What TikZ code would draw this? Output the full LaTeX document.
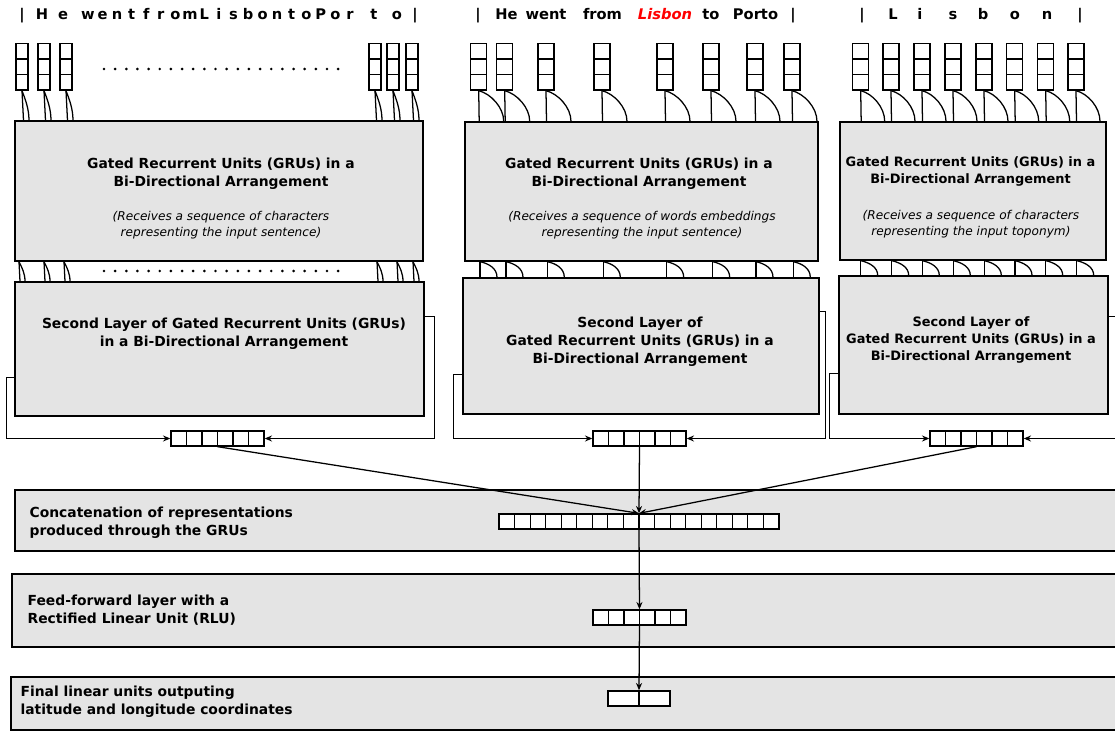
\documentclass[tikz,border=0pt]{standalone}
\usepackage{fontspec}
\setmainfont{DejaVu Sans}
\usetikzlibrary{calc,arrows.meta,fit}
\definecolor{boxgray}{HTML}{E4E4E4}
\newcommand\ttlfont{\fontsize{10.4}{13.5}\selectfont\bfseries}
\newcommand\ttlsmall{\fontsize{9.7}{12.8}\selectfont\bfseries}
\newcommand\itfont{\fontsize{9.1}{12}\selectfont\itshape}
\newcommand\topfont{\fontsize{11}{13}\selectfont\bfseries}
\begin{document}
\begin{tikzpicture}[x=0.75pt,y=-0.75pt,line width=0.95pt,
  box/.style={draw,fill=boxgray,inner sep=0pt,line width=1pt},
  hcells/.style={draw,fill=white,inner sep=0pt,line width=1pt,path picture={
     \pgfmathtruncatemacro\nm{#1-1}
     \foreach \k in {1,...,\nm}{
       \draw[line width=0.9pt] ($(path picture bounding box.south west)!{\k/#1}!(path picture bounding box.south east)$) --
             ($(path picture bounding box.north west)!{\k/#1}!(path picture bounding box.north east)$);}}},
  vcells/.style={draw,fill=white,inner sep=0pt,line width=1pt,path picture={
     \foreach \k in {1,2}{
       \draw[line width=0.9pt] ($(path picture bounding box.north west)!{\k/3}!(path picture bounding box.south west)$) --
             ($(path picture bounding box.north east)!{\k/3}!(path picture bounding box.south east)$);}}},
  arr/.style={-{Stealth[length=5.5pt,width=4.5pt]}},
  txt/.style={inner sep=0pt,align=center},
  ltxt/.style={inner sep=0pt,align=left,anchor=west,font=\ttlfont},
  toptxt/.style={inner sep=0pt,anchor=base,font=\topfont}]
\clip (0,0) rectangle (1115,731);
\fill[white] (0,0) rectangle (1115,731);

% ---------- top texts ----------
\foreach \x/\c [count=\i] in {22/|,42/H,63/e,88/w,102.6/e,117.1/n,131.7/t,146.2/f,160.8/r,175.3/o,189.9/m,204.4/L,219/i,233.5/s,248.1/b,262.6/o,277.2/n,291.7/t,306.3/o,320.8/P,335.4/o,350/r,374/t,397/o,415/|}
  \node[toptxt] (tl\i) at (\x,20) {\c};
\node[toptxt] (tm1) at (478,20) {|};
\node[toptxt] (tm2) at (506.5,20) {He};
\node[toptxt] (tm3) at (546,20) {went};
\node[toptxt] (tm4) at (602.5,20) {from};
\node[toptxt] (tm5) at (665,20) {\textcolor{red}{\itshape Lisbon}};
\node[toptxt] (tm6) at (711,20) {to};
\node[toptxt] (tm7) at (755.5,20) {Porto};
\node[toptxt] (tm8) at (793,20) {|};
\foreach \x/\c [count=\i] in {862/|,893/L,920/i,953/s,983/b,1015/o,1047/n,1080/|}
  \node[toptxt] (tr\i) at (\x,20) {\c};

% ---------- big boxes ----------
\node[box,fit={(15,121) (423,261)}] (L1) {};
\node[box,fit={(465,122) (818,261)}] (M1) {};
\node[box,fit={(840,122) (1106,260)}] (R1) {};
\node[box,fit={(15,282) (424,416)}] (L2) {};
\node[box,fit={(463,278) (819,414)}] (M2) {};
\node[box,fit={(839,276) (1108,414)}] (R2) {};
\node[box,fit={(15,490) (1130,551)}] (CC) {};
\node[box,fit={(12,574) (1130,647)}] (FF) {};
\node[box,fit={(11,677) (1130,730)}] (FI) {};

% ---------- box texts ----------
\node[txt,font=\ttlfont] (l1t) at (221,174) {Gated Recurrent Units (GRUs) in a\\Bi-Directional Arrangement};
\node[txt,font=\itfont] (l1i) at (221,225) {(Receives a sequence of characters\\representing the input sentence)};
\node[txt,font=\ttlfont] (m1t) at (639,174) {Gated Recurrent Units (GRUs) in a\\Bi-Directional Arrangement};
\node[txt,font=\itfont] (m1i) at (642,225) {(Receives a sequence of words embeddings\\representing the input sentence)};
\node[txt,font=\ttlsmall] (r1t) at (970.5,171.5) {Gated Recurrent Units (GRUs) in a\\Bi-Directional Arrangement};
\node[txt,font=\itfont] (r1i) at (971,224.5) {(Receives a sequence of characters\\representing the input toponym)};
\node[txt,font=\ttlfont] (l2t) at (224,334) {Second Layer of Gated Recurrent Units (GRUs)\\in a Bi-Directional Arrangement};
\node[txt,font=\ttlfont] (m2t) at (640,342) {Second Layer of\\Gated Recurrent Units (GRUs) in a\\Bi-Directional Arrangement};
\node[txt,font=\ttlsmall] (r2t) at (971,340) {Second Layer of\\Gated Recurrent Units (GRUs) in a\\Bi-Directional Arrangement};
\node[ltxt] (cct) at (29,522.5) {Concatenation of representations\\produced through the GRUs};
\node[ltxt] (fft) at (27,610.5) {Feed-forward layer with a\\Rectified Linear Unit (RLU)};
\node[ltxt] (fit) at (20,701.5) {Final linear units outputing\\latitude and longitude coordinates};

% ---------- input vectors and connectors ----------
\foreach \x [count=\i] in {22,44,66,375,393,412}{
  \node[vcells,fit={({\x-6},43.5) ({\x+6},90)}] (a\i) {};
  \draw (a\i.south) -- ($(a\i.south |- L1.north)+(1.5,0)$);
  \draw (a\i.south) .. controls +(3,8) and +(0,-12) .. ($(a\i.south |- L1.north)+(7,0)$);
}
\foreach \x [count=\i] in {478.7,504.7,546,602,665,711,755,792}{
  \node[vcells,fit={({\x-8},43.5) ({\x+8},90)}] (b\i) {};
  \draw (b\i.south) -- ($(b\i.south |- M1.north)+(0.5,0)$);
  \draw (b\i.south) .. controls +(12,3) and +(0,-14) .. ($(b\i.south |- M1.north)+(25,0)$);
}
\foreach \x [count=\i] in {860.7,891,922,953,984,1014.7,1045.7,1076}{
  \node[vcells,fit={({\x-8},43.5) ({\x+8},90)}] (c\i) {};
  \draw (c\i.south) -- ($(c\i.south |- R1.north)+(0.5,0)$);
  \draw (c\i.south) .. controls +(12,3) and +(0,-14) .. ($(c\i.south |- R1.north)+(24,0)$);
}
% dots
\foreach \k in {0,...,21}{
  \fill ({104+\k*11.15},69) circle[radius=1.1pt];
  \fill ({104+\k*11.15},271) circle[radius=1.1pt];
}

% ---------- connectors between layers ----------
\foreach \x in {19,44,64,377,397,413}{
  \draw (\x,0 |- L1.south) -- ($(\x,0 |- L2.north)+(1,0)$);
  \draw (\x,0 |- L1.south) .. controls +(3,6) and +(0,-8) .. ($(\x,0 |- L2.north)+(6,0)$);
}
\foreach \x in {480,506,547.3,603.3,666.7,712.7,756,793.3}{
  \draw (\x,0 |- M1.south) -- (\x,0 |- M2.north);
  \draw (\x,0 |- M1.south) .. controls +(9,2) and +(0,-9) .. ($(\x,0 |- M2.north)+(17,0)$);
}
\foreach \x in {860.7,891.7,922.3,953.3,984.3,1015,1045.7,1076.7}{
  \draw (\x,0 |- R1.south) -- (\x,0 |- R2.north);
  \draw (\x,0 |- R1.south) .. controls +(9,2) and +(0,-8) .. ($(\x,0 |- R2.north)+(17,0)$);
}

% ---------- output vectors ----------
\node[hcells=6,fit={(171,431) (264,446)}] (Lv) {};
\node[hcells=6,fit={(593,431) (686,446)}] (Mv) {};
\node[hcells=6,fit={(930,431) (1023,446)}] (Rv) {};
\node[hcells=18,fit={(499,514) (779,529)}] (Cv) {};
\node[hcells=6,fit={(593,610) (686,625)}] (Fv) {};
\node[hcells=2,fit={(608,691) (670,706)}] (Xv) {};

% ---------- feedback loops ----------
\draw[arr] ($(L2.north east)+(0,35)$) -| ($(Lv.east)+(170,0)$) -- (Lv.east);
\draw[arr] ($(L2.north west)+(0,96)$) -| ($(Lv.west)+(-164,0)$) -- (Lv.west);
\draw[arr] ($(M2.north east)+(0,34)$) -| ($(Mv.east)+(139,0)$) -- (Mv.east);
\draw[arr] ($(M2.north west)+(0,97)$) -| ($(Mv.west)+(-139,0)$) -- (Mv.west);
\draw[arr] ($(R2.north east)+(0,41)$) -| ($(Rv.east)+(107,0)$) -- (Rv.east);
\draw[arr] ($(R2.north west)+(0,98)$) -| ($(Rv.west)+(-100,0)$) -- (Rv.west);

% ---------- to concatenation and onward ----------
\draw[arr] (Lv.south) -- (Cv.north);
\draw[arr] (Mv.south) -- (Cv.north);
\draw[arr] (Rv.south) -- (Cv.north);
\draw[arr] (Cv.south) -- (Fv.north);
\draw[arr] (Fv.south) -- (Xv.north);
\end{tikzpicture}
\end{document}
